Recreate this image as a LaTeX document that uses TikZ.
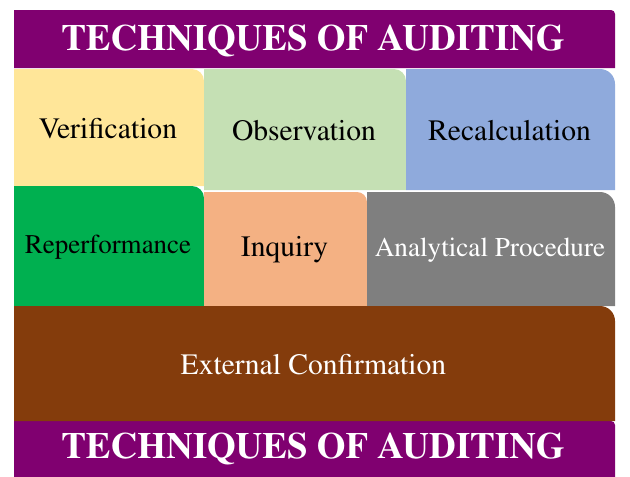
\documentclass[tikz,border=0pt]{standalone}
\usepackage[T1]{fontenc}
\renewcommand{\rmdefault}{ptm}
\usepackage{tikz}
\usetikzlibrary{calc,positioning}

\definecolor{auditpurple}{HTML}{800070}
\definecolor{verifyellow}{HTML}{FFE699}
\definecolor{obsgreen}{HTML}{C5E0B4}
\definecolor{recalcblue}{HTML}{8FAADC}
\definecolor{reperfgreen}{HTML}{00B050}
\definecolor{inquiryorange}{HTML}{F4B183}
\definecolor{analyticgray}{HTML}{7F7F7F}
\definecolor{extbrown}{HTML}{843C0C}

\begin{document}
\begin{tikzpicture}
	[x=1pt,y=1pt,
	heading/.style={text=white,font=\fontsize{37}{41}\selectfont\bfseries},
	techtext/.style={font=\fontsize{#1}{#1}\selectfont}]
	
	\useasboundingbox (0,0) rectangle (630,-477);
	
	% purple bands
	\fill[auditpurple] (14,-68) -- (14,-10) -- (611,-10) arc[start angle=90,end angle=0,radius=4] -- (615,-68) -- cycle;
	\fill[auditpurple] (14,-477) -- (14,-421) -- (611,-421) arc[start angle=90,end angle=0,radius=4] -- (615,-477) -- cycle;
	\node[heading] (toptitle) at (313,-41) {TECHNIQUES OF AUDITING};
	\node[heading] (bottomtitle) at (313,-449) {TECHNIQUES OF AUDITING};
	
	% technique boxes
	\foreach \nm/\xa/\ya/\xb/\yb/\r/\col/\tc/\fs/\txt in {
		verif/14/69/204/186/12/verifyellow/black/29.6/Verification,
		obs/204/69/406/190/12/obsgreen/black/29.6/Observation,
		recalc/406/69/615/190/15/recalcblue/black/29.6/Recalculation,
		reperf/14/186/204/306/12/reperfgreen/black/27/Reperformance,
		inquiry/204/192/367/306/10/inquiryorange/black/29.6/Inquiry,
		analytic/367/192/615/306/15/analyticgray/white/27.2/Analytical Procedure,
		extconf/14/306/615/421/15/extbrown/white/29.6/External Confirmation}
	{
		\fill[\col] (\xa,-\yb) -- (\xa,-\ya) -- ({\xb-\r},-\ya) arc[start angle=90,end angle=0,radius=\r] -- (\xb,-\yb) -- cycle;
		\node[techtext=\fs,text=\tc] (\nm) at ({(\xa+\xb)/2-1},{-(\ya+\yb)/2-1}) {\txt};
	}
\end{tikzpicture}
\end{document}
